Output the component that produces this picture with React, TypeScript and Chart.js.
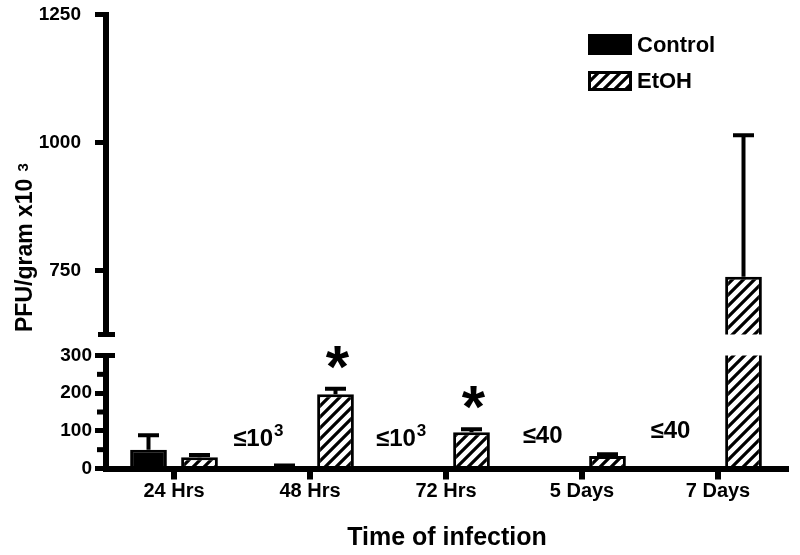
import React, { useEffect, useRef } from 'react';
import { Chart, registerables } from 'chart.js';
Chart.register(...registerables);

// ---------- data ----------
const categories = ['24 Hrs', '48 Hrs', '72 Hrs', '5 Days', '7 Days'];
const seriesNames = ['Control', 'EtOH'];
const controlMean: (number | null)[] = [50, 0, null, null, null];
const controlErrTop: (number | null)[] = [88, 8, null, null, null];
const etohMean: (number | null)[] = [30, 197, 96, 33, 738];
const etohErrTop: (number | null)[] = [36, 212, 104, 38, 1014];

const lowerRange = [0, 300];
const upperRange = [625, 1250];
const lowerTicks = [0, 100, 200, 300];
const lowerMinorTicks = [50, 150, 250];
const upperTicks = [750, 1000, 1250];

// detection-limit notes (x in category units, y in data units of the lower segment)
const limitText = ['≤10', '≤10', '≤40', '≤40'];
const limitSup = ['3', '3', '', ''];
const limitX = [0.62, 1.67, 2.71, 3.65];
const limitY = [61, 61, 69, 80];
const significance = ['', '*', '*', '', ''];

const yTitle = 'PFU/gram x10';
const yTitleSup = '3';
const xTitle = 'Time of infection';

const FAMILY = '"Liberation Sans", Arial, Helvetica, sans-serif';
const f = (size: number) => `bold ${size}px ${FAMILY}`;

function makeHatch(ctx: CanvasRenderingContext2D) {
  const c = document.createElement('canvas');
  const s = 11;
  c.width = s;
  c.height = s;
  const g = c.getContext('2d')!;
  g.fillStyle = '#fff';
  g.fillRect(0, 0, s, s);
  g.strokeStyle = '#000';
  g.lineWidth = 3.2;
  g.beginPath();
  g.moveTo(-3, s + 3);
  g.lineTo(s + 3, -3);
  g.moveTo(-3, 3);
  g.lineTo(3, -3);
  g.moveTo(s - 3, s + 3);
  g.lineTo(s + 3, s - 3);
  g.stroke();
  return ctx.createPattern(c, 'repeat') as CanvasPattern;
}

function drawErrorBars(chart: any) {
  const { ctx, chartArea: a, scales } = chart;
  const ys = scales.y;
  const tops = [controlErrTop, etohErrTop];
  const means = [controlMean, etohMean];
  ctx.save();
  ctx.beginPath();
  ctx.rect(0, a.top - 2, chart.width, a.bottom - a.top + 4);
  ctx.clip();
  ctx.strokeStyle = '#000';
  ctx.lineWidth = 4;
  tops.forEach((arr, di) => {
    const meta = chart.getDatasetMeta(di);
    arr.forEach((t, i) => {
      if (t == null) return;
      const x = meta.data[i].x;
      const y0 = ys.getPixelForValue(means[di][i] ?? 0);
      const y1 = ys.getPixelForValue(t);
      ctx.beginPath();
      ctx.moveTo(x, y0);
      ctx.lineTo(x, y1);
      ctx.moveTo(x - 10.5, y1);
      ctx.lineTo(x + 10.5, y1);
      ctx.stroke();
    });
  });
  ctx.restore();
}

function datasets(hatch: CanvasPattern) {
  const common = {
    borderColor: '#000',
    borderWidth: 3,
    clip: 0,
    categoryPercentage: 0.75,
    barPercentage: 0.72,
  };
  return [
    { label: seriesNames[0], data: controlMean, backgroundColor: '#000', ...common },
    { label: seriesNames[1], data: etohMean, backgroundColor: hatch, ...common },
  ];
}

function yAxis(min: number, max: number, ticksArr: number[], pad: number) {
  return {
    min,
    max,
    afterBuildTicks: (s: any) => {
      s.ticks = ticksArr.map((v) => ({ value: v }));
    },
    afterFit: (s: any) => {
      s.width = 106;
      s.paddingTop = 0;
      s.paddingBottom = 0;
    },
    ticks: {
      color: '#000',
      font: { family: FAMILY, size: 19, weight: 'bold' },
      padding: pad,
      callback: (v: any) => String(v),
    },
    grid: { drawOnChartArea: false, tickLength: 11, lineWidth: 5, color: '#000' },
    border: { display: true, color: '#000', width: 6, z: 1 },
  };
}

export default function App() {
  const lowerRef = useRef<HTMLCanvasElement>(null);
  const upperRef = useRef<HTMLCanvasElement>(null);

  useEffect(() => {
    const lc = lowerRef.current!;
    const uc = upperRef.current!;
    const hatchL = makeHatch(lc.getContext('2d')!);
    const hatchU = makeHatch(uc.getContext('2d')!);

    const lowerPlugin = {
      id: 'lowerDecor',
      afterDatasetsDraw(chart: any) {
        drawErrorBars(chart);
      },
      afterDraw(chart: any) {
        const { ctx, chartArea: a, scales } = chart;
        const xs = scales.x;
        const ys = scales.y;
        ctx.save();
        ctx.fillStyle = '#000';
        // minor ticks
        lowerMinorTicks.forEach((v) => {
          const y = ys.getPixelForValue(v);
          ctx.fillRect(a.left - 9, y - 2.5, 9, 5);
        });
        // break mark at top of lower segment
        ctx.fillRect(a.left, a.top - 2.5, 9, 5);
        // detection limit notes
        ctx.textBaseline = 'alphabetic';
        ctx.textAlign = 'left';
        limitText.forEach((t, k) => {
          const x = xs.getPixelForValue(limitX[k]);
          const yb = ys.getPixelForValue(limitY[k]);
          ctx.font = f(24);
          const w = ctx.measureText(t).width;
          ctx.font = f(17);
          const ws = limitSup[k] ? ctx.measureText(limitSup[k]).width + 1 : 0;
          const x0 = x - (w + ws) / 2;
          ctx.font = f(24);
          ctx.fillText(t, x0, yb);
          if (limitSup[k]) {
            ctx.font = f(17);
            ctx.fillText(limitSup[k], x0 + w + 1, yb - 10);
          }
        });
        // significance asterisks
        const meta = chart.getDatasetMeta(1);
        ctx.font = f(60);
        ctx.textAlign = 'center';
        significance.forEach((s, i) => {
          if (!s || etohErrTop[i] == null) return;
          const x = meta.data[i].x + 2;
          const y = ys.getPixelForValue(etohErrTop[i]) - 2;
          ctx.fillText(s, x, y);
        });
        // x title
        ctx.font = f(25);
        ctx.textAlign = 'center';
        ctx.fillText(xTitle, (a.left + a.right) / 2 + 1, 545);
        // y title (rotated)
        ctx.translate(32, 332);
        ctx.rotate(-Math.PI / 2);
        ctx.textAlign = 'left';
        ctx.font = f(23);
        ctx.fillText(yTitle, 0, 0);
        const tw = ctx.measureText(yTitle).width;
        ctx.font = f(15);
        ctx.fillText(yTitleSup, tw + 7, -4);
        ctx.restore();
      },
    };

    const upperPlugin = {
      id: 'upperDecor',
      afterDatasetsDraw(chart: any) {
        drawErrorBars(chart);
      },
      afterDraw(chart: any) {
        const { ctx, chartArea: a } = chart;
        ctx.save();
        ctx.fillStyle = '#000';
        // break mark at bottom of upper segment
        ctx.fillRect(a.left - 8, a.bottom - 2.5, 17, 5);
        // legend
        const lx = a.right - 198;
        ctx.fillRect(lx, 34, 44, 21);
        ctx.fillStyle = hatchU;
        ctx.fillRect(lx, 71, 44, 20);
        ctx.strokeStyle = '#000';
        ctx.lineWidth = 3;
        ctx.strokeRect(lx + 1.5, 72.5, 41, 17);
        ctx.fillStyle = '#000';
        ctx.font = f(22);
        ctx.textAlign = 'left';
        ctx.textBaseline = 'alphabetic';
        ctx.fillText(seriesNames[0], lx + 49, 52);
        ctx.fillText(seriesNames[1], lx + 49, 88);
        ctx.restore();
      },
    };

    const lower = new Chart(lc, {
      type: 'bar',
      data: { labels: categories, datasets: datasets(hatchL) as any },
      options: {
        responsive: false,
        animation: false,
        layout: { padding: { top: 355.5, right: 14, bottom: 0, left: 0 } },
        plugins: { legend: { display: false }, tooltip: { enabled: false } },
        scales: {
          x: {
            offset: true,
            afterFit: (s: any) => {
              s.height = 86.5;
            },
            grid: { offset: false, drawOnChartArea: false, tickLength: 11, lineWidth: 6, color: '#000' },
            border: { display: true, color: '#000', width: 6, z: 1 },
            ticks: { color: '#000', font: { family: FAMILY, size: 20, weight: 'bold' }, padding: 0 },
          },
          y: yAxis(lowerRange[0], lowerRange[1], lowerTicks, 3) as any,
        },
      },
      plugins: [lowerPlugin],
    });

    const upper = new Chart(uc, {
      type: 'bar',
      data: { labels: categories, datasets: datasets(hatchU) as any },
      options: {
        responsive: false,
        animation: false,
        layout: { padding: { top: 14.5, right: 14, bottom: 220.5, left: 0 } },
        plugins: { legend: { display: false }, tooltip: { enabled: false } },
        scales: {
          x: { display: false, offset: true },
          y: yAxis(upperRange[0], upperRange[1], upperTicks, 14) as any,
        },
      },
      plugins: [upperPlugin],
    });

    return () => {
      lower.destroy();
      upper.destroy();
    };
  }, []);

  return (
    <div style={{ position: 'fixed', left: 0, top: 0, width: 800, height: 555, background: '#fff' }}>
      <canvas ref={lowerRef} width={800} height={555} style={{ position: 'absolute', left: 0, top: 0 }} />
      <canvas
        ref={upperRef}
        width={800}
        height={555}
        style={{ position: 'absolute', left: 0, top: 0, pointerEvents: 'none' }}
      />
    </div>
  );
}
